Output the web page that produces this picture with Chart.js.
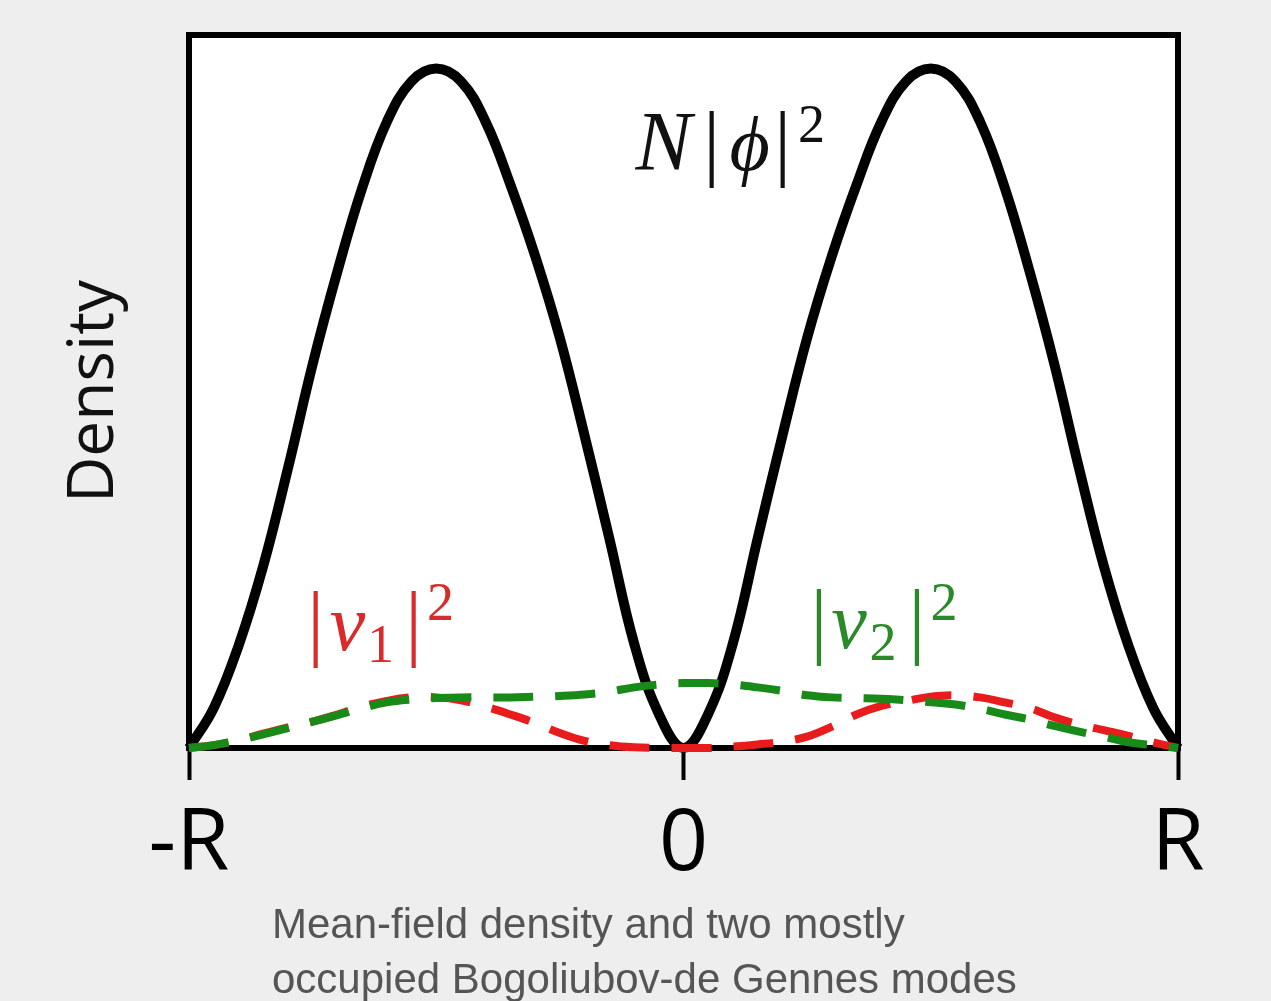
<!DOCTYPE html>
<html lang="en">
<head>
<meta charset="UTF-8">
<title>Mean-field density and Bogoliubov-de Gennes modes</title>
<script src="https://cdn.jsdelivr.net/npm/chart.js@4.4.0/dist/chart.umd.min.js"></script>
<style>
  html, body { margin: 0; padding: 0; background: #eeeeee; }
  #wrap { position: relative; width: 1271px; height: 1001px; }
  #caption {
    position: absolute; left: 272px; top: 896px;
    font: 42px/55px "Liberation Sans", Arial, sans-serif; color: #555;
  }
</style>
</head>
<body>
<div id="wrap">
  <canvas id="chart" width="1271" height="1001"></canvas>
  <div id="caption">Mean-field density and two mostly<br>occupied Bogoliubov-de Gennes modes</div>
</div>
<script>
// positions across the trap, -R .. R scaled to -1 .. 1
const xPos = [-1, -0.95, -0.9, -0.85, -0.8, -0.75, -0.7, -0.65, -0.6, -0.55, -0.5,
  -0.45, -0.4, -0.35, -0.3, -0.25, -0.2, -0.15, -0.1, -0.05, 0,
  0.05, 0.1, 0.15, 0.2, 0.25, 0.3, 0.35, 0.4, 0.45, 0.5,
  0.55, 0.6, 0.65, 0.7, 0.75, 0.8, 0.85, 0.9, 0.95, 1];

// N|phi|^2, mean-field density
const densityMF = [0, 0.056, 0.143, 0.255, 0.392, 0.538, 0.668, 0.785, 0.878, 0.935, 0.953,
  0.935, 0.878, 0.79, 0.69, 0.575, 0.438, 0.294, 0.147, 0.048, 0,
  0.048, 0.147, 0.294, 0.438, 0.575, 0.69, 0.79, 0.878, 0.935, 0.953,
  0.935, 0.878, 0.785, 0.668, 0.538, 0.392, 0.255, 0.143, 0.056, 0];

// |v1|^2
const modeV1 = [0, 0.004, 0.011, 0.020, 0.029, 0.037, 0.047, 0.058, 0.066, 0.071, 0.071,
  0.067, 0.058, 0.047, 0.035, 0.021, 0.010, 0.004, 0.001, 0, 0,
  0, 0.002, 0.005, 0.009, 0.016, 0.030, 0.047, 0.059, 0.066, 0.072,
  0.074, 0.071, 0.064, 0.056, 0.043, 0.033, 0.025, 0.017, 0.008, 0];

// |v2|^2
const modeV2 = [0, 0.004, 0.011, 0.019, 0.028, 0.037, 0.046, 0.056, 0.064, 0.068, 0.070,
  0.071, 0.071, 0.071, 0.072, 0.073, 0.075, 0.079, 0.085, 0.089, 0.091,
  0.091, 0.089, 0.085, 0.080, 0.074, 0.071, 0.070, 0.069, 0.067, 0.064,
  0.061, 0.055, 0.047, 0.040, 0.031, 0.023, 0.016, 0.008, 0.004, 0];

const xTickValues = [-1, 0, 1];
const xTickText = ['-R', '0', 'R'];

const serif = '"Liberation Serif", "DejaVu Serif", serif';

// math-style curve labels: anchor in data units, pieces offset in px
const mathLabels = [
  { x: -0.113, y: 0.811, color: '#111', parts: [
    { t: 'N', style: 'italic', size: 84, dx: 36, dy: 0 },
    { t: '|', style: '', size: 84, dx: 84, dy: 0 },
    { t: '\u03D5', style: 'italic', size: 78, dx: 122, dy: 0 },
    { t: '|', style: '', size: 84, dx: 155, dy: 0 },
    { t: '2', style: '', size: 54, dx: 184, dy: -28 }
  ] },
  { x: -0.744, y: 0.137, color: '#d92b2b', parts: [
    { t: '|', style: '', size: 84, dx: 0, dy: 0 },
    { t: 'v', style: 'italic', size: 80, dx: 32, dy: 0 },
    { t: '1', style: '', size: 54, dx: 65, dy: 12 },
    { t: '|', style: '', size: 84, dx: 98, dy: 0 },
    { t: '2', style: '', size: 54, dx: 125, dy: -30 }
  ] },
  { x: 0.274, y: 0.140, color: '#2a8a2a', parts: [
    { t: '|', style: '', size: 84, dx: 0, dy: 0 },
    { t: 'v', style: 'italic', size: 80, dx: 30, dy: 0 },
    { t: '2', style: '', size: 54, dx: 64, dy: 12 },
    { t: '|', style: '', size: 84, dx: 98, dy: 0 },
    { t: '2', style: '', size: 54, dx: 125, dy: -28 }
  ] }
];

const toPoints = arr => xPos.map((x, i) => ({ x: x, y: arr[i] }));

const framePlugin = {
  id: 'frame',
  beforeDraw(chart) {
    const { ctx, chartArea: a } = chart;
    ctx.save();
    ctx.fillStyle = '#ffffff';
    ctx.fillRect(a.left, a.top, a.right - a.left, a.bottom - a.top);
    ctx.restore();
  },
  beforeDatasetsDraw(chart) {
    const { ctx, chartArea: a } = chart;
    ctx.save();
    ctx.strokeStyle = '#000';
    ctx.lineWidth = 6;
    ctx.strokeRect(a.left, a.top, a.right - a.left, a.bottom - a.top);
    ctx.restore();
  },
  afterDatasetsDraw(chart) {
    const { ctx } = chart;
    const xs = chart.scales.x, ys = chart.scales.y;
    ctx.save();
    ctx.textAlign = 'center';
    ctx.textBaseline = 'alphabetic';
    mathLabels.forEach(lab => {
      const px = xs.getPixelForValue(lab.x);
      const py = ys.getPixelForValue(lab.y);
      ctx.fillStyle = lab.color;
      lab.parts.forEach(p => {
        ctx.font = (p.style ? p.style + ' ' : '') + p.size + 'px ' + serif;
        ctx.fillText(p.t, px + p.dx, py + p.dy);
      });
    });
    ctx.restore();
  }
};

const ctx = document.getElementById('chart').getContext('2d');
const myChart = new Chart(ctx, {
  type: 'line',
  data: {
    datasets: [
      { label: 'N|phi|^2', data: toPoints(densityMF), borderColor: '#000', borderWidth: 10, order: 3, clip: false },
      { label: '|v1|^2', data: toPoints(modeV1), borderColor: '#e81c1c', borderWidth: 8, borderDash: [40, 22], order: 2, clip: false },
      { label: '|v2|^2', data: toPoints(modeV2), borderColor: '#178a17', borderWidth: 8, borderDash: [40, 22], order: 1, clip: false }
    ]
  },
  options: {
    responsive: false,
    animation: false,
    layout: { padding: { left: 40, top: 35, right: 93, bottom: 0 } },
    elements: {
      point: { radius: 0 },
      line: { tension: 0.4, borderCapStyle: 'butt', borderJoinStyle: 'round', fill: false }
    },
    scales: {
      x: {
        type: 'linear', min: -1, max: 1,
        afterBuildTicks: s => { s.ticks = xTickValues.map(v => ({ value: v })); },
        afterFit: s => { s.height = 253; s.paddingLeft = 0; s.paddingRight = 0; },
        border: { display: false },
        grid: { drawOnChartArea: false, drawTicks: true, tickLength: 32, tickWidth: 4, tickColor: '#000' },
        ticks: {
          autoSkip: false, maxRotation: 0, padding: 22, color: '#000',
          font: { family: '"Open Sans", sans-serif', size: 86, lineHeight: 1 },
          callback: v => xTickText[xTickValues.indexOf(v)]
        }
      },
      y: {
        min: 0, max: 1,
        afterFit: s => { s.width = 149; s.paddingTop = 0; s.paddingBottom = 0; },
        ticks: { display: false },
        grid: { display: false },
        border: { display: false },
        title: {
          display: true, text: 'Density', color: '#111',
          font: { family: '"Open Sans", sans-serif', size: 64 },
          padding: { top: 16, bottom: 0 }
        }
      }
    },
    plugins: { legend: { display: false }, tooltip: { enabled: false } }
  },
  plugins: [framePlugin]
});
</script>
</body>
</html>
